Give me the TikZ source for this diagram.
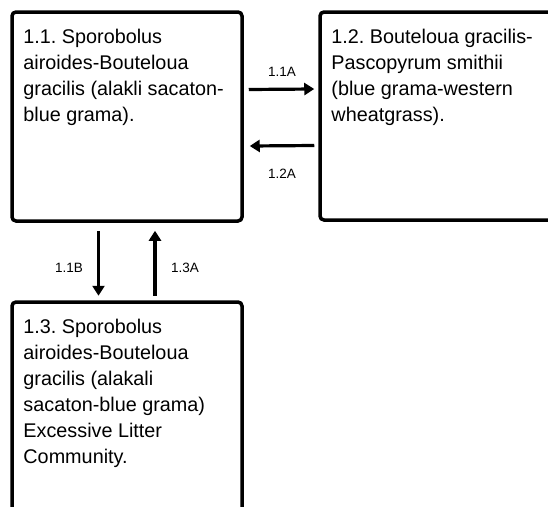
\documentclass[tikz,border=0pt]{standalone}
\usepackage{fontspec}
\setmainfont{Liberation Sans}
\frenchspacing
\usetikzlibrary{arrows.meta,calc}
\begin{document}
\begin{tikzpicture}[x=1pt,y=-1pt,
  box/.style={draw,line width=3.5pt,rounded corners=4pt,inner sep=0pt},
  txt/.style={anchor=north west,inner sep=0pt,align=left,font=\fontsize{19.8}{26}\selectfont},
  lab/.style={inner sep=0pt,font=\fontsize{13.5}{16}\selectfont},
  arr/.style={line width=3.2pt,-{Triangle[length=10pt,width=12pt]}}]
\clip (0,0) rectangle (548,506);
\node[box,minimum width=230pt,minimum height=209pt] (b11) at (127,116.5) {};
\node[box,minimum width=240pt,minimum height=208pt] (b12) at (440,116) {};
\node[box,minimum width=230pt,minimum height=228pt] (b13) at (127,416) {};
\node[txt] (t11) at ($(b11.north west)+(13,18.6)$) {1.1. Sporobolus\\airoides-Bouteloua\\gracilis (alakli sacaton-\\blue grama).};
\node[txt] (t12) at ($(b12.north west)+(13,18.6)$) {1.2. Bouteloua gracilis-\\Pascopyrum smithii\\(blue grama-western\\wheatgrass).};
\node[txt] (t13) at ($(b13.north west)+(13,18.6)$) {1.3. Sporobolus\\airoides-Bouteloua\\gracilis (alakali\\sacaton-blue grama)\\Excessive Litter\\Community.};
\draw[arr] ($(b11.east)+(5,-27)$) coordinate (a1s) -- ($(b12.west)+(-4,-27)$) coordinate (a1e);
\draw[arr] ($(b12.west)+(-4,29.5)$) coordinate (a2s) -- ($(b11.east)+(6,29.5)$) coordinate (a2e);
\draw[arr] ($(b11.south)+(-28.5,8)$) coordinate (a3s) -- ($(b13.north)+(-28.5,-4.5)$) coordinate (a3e);
\draw[arr] ($(b13.north)+(28,-4.5)$) coordinate (a4s) -- ($(b11.south)+(28,8)$) coordinate (a4e);
\node[lab] (l11a) at (282,72) {1.1A};
\node[lab] (l12a) at (282,174) {1.2A};
\node[lab] (l11b) at (69,268) {1.1B};
\node[lab] (l13a) at (185,268) {1.3A};
\end{tikzpicture}
\end{document}
